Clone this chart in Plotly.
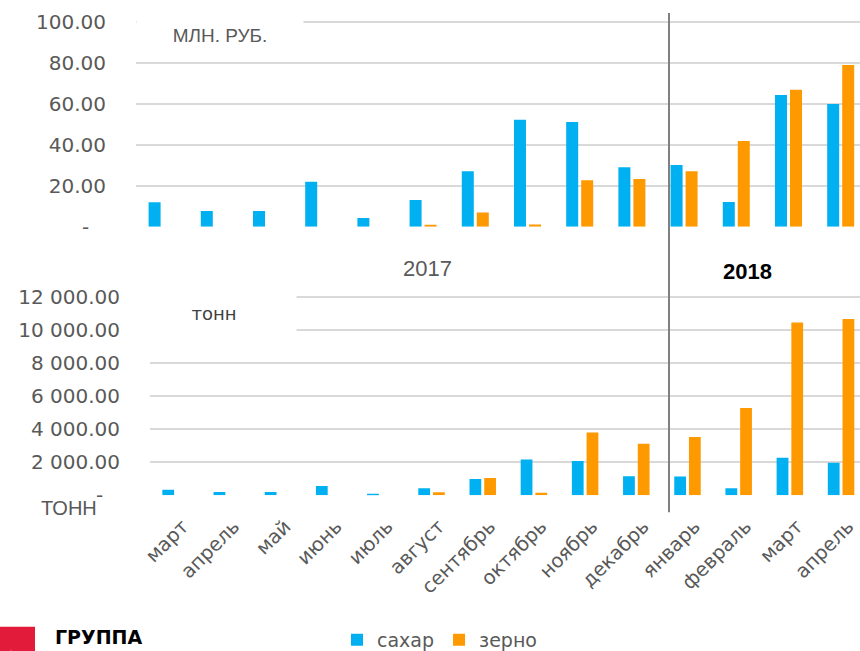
import plotly.graph_objects as go

# ---- data ----
months = ["март", "апрель", "май", "июнь", "июль", "август", "сентябрь", "октябрь",
          "ноябрь", "декабрь", "январь", "февраль", "март", "апрель"]
rub_sugar = [12.0, 7.7, 7.7, 22.0, 4.3, 13.1, 27.1, 52.4, 51.2, 29.1, 30.2, 12.1, 64.5, 60.1]
rub_grain = [None, None, None, None, None, 1.0, 7.0, 1.1, 22.7, 23.3, 27.1, 41.9, 67.1, 79.1]
ton_sugar = [340, 200, 200, 565, 80, 425, 990, 2165, 2070, 1155, 1130, 425, 2270, 1965]
ton_grain = [None, None, None, None, None, 180, 1050, 160, 3790, 3120, 3525, 5265, 10430, 10640]
rub_ticks = [0, 20, 40, 60, 80, 100]
ton_ticks = [0, 2000, 4000, 6000, 8000, 10000, 12000]
series_names = ["сахар", "зерно"]
years = ["2017", "2018"]

BLUE = "#00B0F0"
ORANGE = "#FF9900"
GRAY = "#595959"
GRID = "#d9d9d9"
W, H = 860, 651
LAYOUT_H = 659


def fmt(v):
    if v == 0:
        return "-\u00a0\u00a0\u2009"
    return f"{v:,.2f}".replace(",", " ")


def py(p):
    return (H - p) / H


idx = list(range(len(months)))

fig = go.Figure()
fig.add_trace(go.Bar(x=idx, y=rub_sugar, name=series_names[0], marker_color=BLUE,
                     xaxis="x", yaxis="y", showlegend=False, legendgroup="s"))
fig.add_trace(go.Bar(x=idx, y=rub_grain, name=series_names[1], marker_color=ORANGE,
                     xaxis="x", yaxis="y", showlegend=False, legendgroup="g"))
fig.add_trace(go.Bar(x=idx, y=ton_sugar, name=series_names[0], marker_color=BLUE,
                     xaxis="x2", yaxis="y2", legendgroup="s"))
fig.add_trace(go.Bar(x=idx, y=ton_grain, name=series_names[1], marker_color=ORANGE,
                     xaxis="x2", yaxis="y2", legendgroup="g"))

xr = [-0.5, 13.37]
tickfont = dict(family="DejaVu Sans", size=20, color=GRAY)

# ranges extended slightly above the top tick so the top gridline is drawn
top_max, bot_max = 101, 12100
top0, top100 = 225.3, 22.3
bot0, bot12k = 492.3, 294.7
top_dom_top = top0 - (top0 - top100) * top_max / 100
bot_dom_top = bot0 - (bot0 - bot12k) * bot_max / 12000

fig.update_layout(
    template="none",
    width=W, height=LAYOUT_H,
    margin=dict(l=0, r=0, t=0, b=0),
    paper_bgcolor="white", plot_bgcolor="white",
    barmode="group", bargap=0.425, bargroupgap=0.2,
    font=dict(family="DejaVu Sans", color=GRAY),
    xaxis=dict(domain=[136 / W, 1], range=xr, anchor="y", showticklabels=False,
               showgrid=False, zeroline=False, showline=False, ticks="", automargin=False),
    yaxis=dict(domain=[py(top0), py(top_dom_top)], range=[0, top_max], anchor="x",
               tickvals=rub_ticks, ticktext=[fmt(v) for v in rub_ticks],
               showgrid=True, gridcolor=GRID, gridwidth=2, zeroline=False, showline=False,
               ticks="", tickfont=tickfont, ticklabelstandoff=29, automargin=False),
    xaxis2=dict(domain=[150 / W, 1], range=xr, anchor="y2",
                tickvals=idx, ticktext=months, tickangle=-45,
                tickfont=dict(family="DejaVu Sans", size=19.5, color=GRAY),
                showgrid=False, zeroline=False, showline=False, ticks="",
                ticklabelstandoff=15, ticklabelshift=7, automargin=False),
    yaxis2=dict(domain=[py(bot0), py(bot_dom_top)], range=[0, bot_max], anchor="x2",
                tickvals=ton_ticks, ticktext=[fmt(v) for v in ton_ticks],
                showgrid=True, gridcolor=GRID, gridwidth=2, zeroline=False, showline=False,
                ticks="", tickfont=tickfont, ticklabelstandoff=29, automargin=False),
    legend=dict(orientation="h", x=337 / W, xanchor="left", y=py(636), yanchor="middle",
                font=dict(family="DejaVu Sans", size=19, color=GRAY),
                bgcolor="rgba(0,0,0,0)", itemwidth=30, traceorder="normal"),
    showlegend=True,
)

# divider between years
fig.add_shape(type="line", xref="paper", yref="paper", x0=669 / W, x1=669 / W,
              y0=py(509), y1=py(13), line=dict(color="#808080", width=2))

# logo block
fig.add_shape(type="rect", xref="paper", yref="paper", x0=0, x1=35 / W,
              y0=-0.05, y1=py(623), fillcolor="#E31B3B", line=dict(width=0))
fig.add_shape(type="path", xref="paper", yref="paper",
              path=f"M {7 / W},{-0.05} L {11 / W},{py(645)} L {15 / W},{-0.05} Z",
              fillcolor="white", line=dict(width=0))

annots = [
    dict(text="МЛН. РУБ.", x=220 / W, y=py(35), font=dict(family="Liberation Sans", size=19, color=GRAY),
         bgcolor="white", width=164, height=38),
    dict(text="тонн", x=214 / W, y=py(311), font=dict(family="DejaVu Sans", size=18, color="#404040"),
         bgcolor="white", width=162, height=42),
    dict(text=years[0], x=427 / W, y=py(267), font=dict(family="Liberation Sans", size=22, color=GRAY)),
    dict(text="<b>" + years[1] + "</b>", x=747 / W, y=py(270),
         font=dict(family="Liberation Sans", size=22, color="black")),
    dict(text="ТОНН", x=69 / W, y=py(505), font=dict(family="Liberation Sans", size=20, color=GRAY)),
    dict(text="<b>ГРУППА</b>", x=53 / W, y=py(633), xanchor="left",
         font=dict(family="DejaVu Sans", size=19, color="black")),
]
for a in annots:
    a.setdefault("xanchor", "center")
    fig.add_annotation(xref="paper", yref="paper", showarrow=False, yanchor="middle", **a)

post = ("document.documentElement.style.margin='0';document.body.style.margin='0';"
        "document.documentElement.style.overflow='hidden';document.body.style.overflow='hidden';"
        "var gd=document.getElementById('{plot_id}');"
        "gd.style.position='fixed';gd.style.top='0px';gd.style.left='0px';")

fig.write_html("out.html", config={"displayModeBar": False}, post_script=post)
